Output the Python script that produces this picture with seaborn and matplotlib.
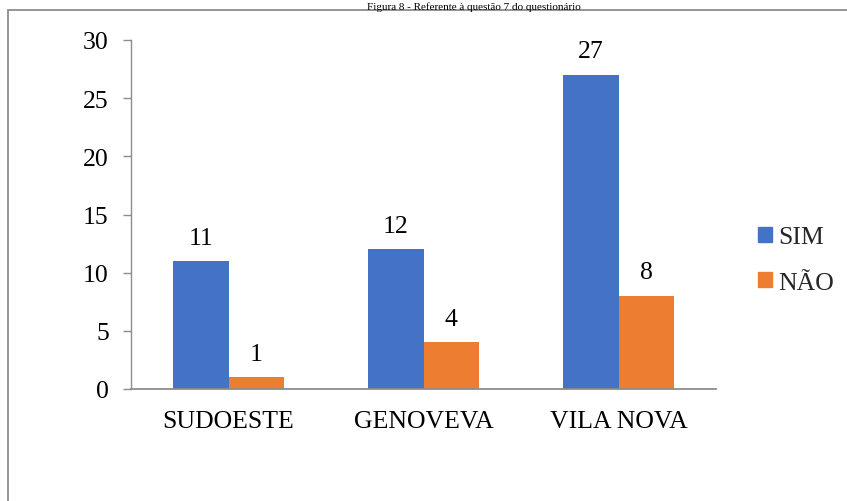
import matplotlib
matplotlib.use("Agg")
import matplotlib.pyplot as plt
import seaborn as sns
import pandas as pd
from matplotlib.patches import Rectangle, Patch

categories = ["SUDOESTE", "GENOVEVA", "VILA NOVA"]
sim_values = [11, 12, 27]
nao_values = [1, 4, 8]
series_names = ["SIM", "NÃO"]
yticks = [0, 5, 10, 15, 20, 25, 30]
title_text = "Figura 8 - Referente à questão 7 do questionário"

df = pd.DataFrame({
    "cat": categories * 2,
    "serie": [series_names[0]] * 3 + [series_names[1]] * 3,
    "val": sim_values + nao_values,
})

sns.set_theme(style="white")
plt.rcParams["font.family"] = ["Liberation Serif", "DejaVu Serif"]

W, H = 847, 502
fig = plt.figure(figsize=(W / 100, H / 100), dpi=100)
ax = fig.add_axes([131 / W, 1 - 390 / H, (716 - 131) / W, (390 - 41) / H])

palette = {"SIM": "#4472C4", "NÃO": "#ED7D31"}
sns.barplot(data=df, x="cat", y="val", hue="serie", palette=palette,
            width=0.566, saturation=1, ax=ax, legend=False, linewidth=0)

FS = 18.5
for cont in ax.containers:
    ax.bar_label(cont, padding=9, fontsize=FS, color="#000000")

ax.set_ylim(0, 30)
ax.set_yticks(yticks)
ax.set_xlim(-0.5, 2.5)
ax.set_xlabel("")
ax.set_ylabel("")
ax.tick_params(axis="y", labelsize=FS, length=6, width=1, color="#8c8c8c", left=True, pad=10)
ax.tick_params(axis="x", labelsize=FS, length=0, pad=15)
for lbl in ax.get_yticklabels() + ax.get_xticklabels():
    lbl.set_color("#000000")
for s in ["top", "right"]:
    ax.spines[s].set_visible(False)
ax.spines["left"].set_color("#8c8c8c")
ax.spines["bottom"].set_color("#8c8c8c")
ax.spines["left"].set_linewidth(1)
ax.spines["bottom"].set_linewidth(1.3)

# legend
handles = [Patch(color=palette[n], label=n) for n in series_names]
fig.legend(handles=handles, loc="center left", bbox_to_anchor=(740 / W, 1 - 261 / H),
           frameon=False, fontsize=FS, handlelength=0.55, handleheight=0.55,
           handletextpad=0.25, labelspacing=0.9, borderpad=0.2)

# outer frame (chart area border)
fig.patches.append(Rectangle((8 / W, -0.1), 1.2, 1 - 11 / H + 0.1,
                             transform=fig.transFigure, fill=False,
                             edgecolor="#8c8c8c", linewidth=1.3))

# title above the frame (partly hidden in the source document)
fig.text(474 / W, 1 - 9.5 / H, title_text, ha="center", va="baseline",
         fontsize=8, color="#000000")

fig.savefig("out.png", dpi=100)
